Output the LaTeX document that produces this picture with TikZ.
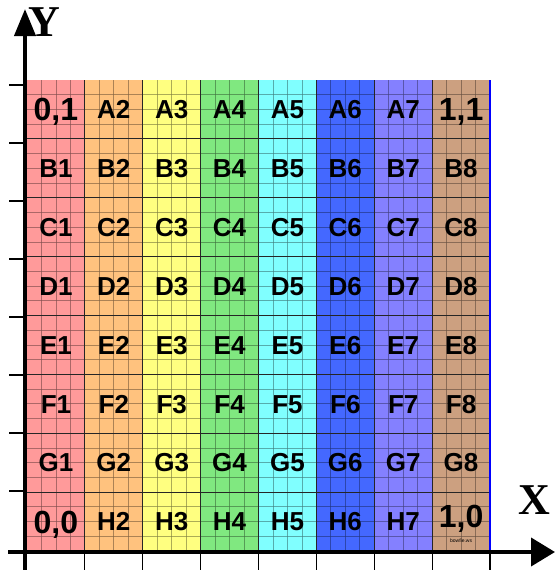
\documentclass[tikz,border=0pt]{standalone}
\usepackage{fontspec}
\setmainfont{Liberation Sans}
\newfontfamily\axisfont{Liberation Serif}
\usetikzlibrary{arrows.meta}
\definecolor{colA}{HTML}{FF9A9A}
\definecolor{colB}{HTML}{FFC27E}
\definecolor{colC}{HTML}{FFFF80}
\definecolor{colD}{HTML}{80E880}
\definecolor{colE}{HTML}{80FFFF}
\definecolor{colF}{HTML}{4468FF}
\definecolor{colG}{HTML}{8480FF}
\definecolor{colH}{HTML}{CCA080}
\tikzset{
  cell/.style={font=\bfseries\fontsize{26}{26}\selectfont, inner sep=0pt, text height=18.6pt, text depth=0pt},
  corner/.style={font=\bfseries\fontsize{32}{32}\selectfont, inner sep=0pt, text height=23pt, text depth=0pt},
  axislbl/.style={font=\axisfont\bfseries\fontsize{44}{44}\selectfont, inner sep=0pt},
  axisline/.style={line width=4pt, draw=black},
  tick/.style={line width=1.2pt, draw=black},
  mainline/.style={line width=1.2pt, draw=black!85},
}
\begin{document}
\begin{tikzpicture}[x=1pt,y=-1pt]
\useasboundingbox (0,0) rectangle (555,570);
\def\gx{27}\def\gy{80}\def\cw{57.875}\def\rh{58.875}
% coloured columns with fine grid
\foreach \col [count=\i from 0] in {colA,colB,colC,colD,colE,colF,colG,colH}{
  \fill[\col] ({\gx+\i*\cw},\gy) rectangle ++(\cw,{8*\rh});
  \foreach \k in {1,2,3}
    \draw[\col!50!black, line width=0.8pt, opacity=0.65] ({\gx+(\i+\k/4)*\cw},\gy) -- ++(0,{8*\rh});
  \foreach \k in {1,...,31}
    \draw[\col!50!black, line width=0.8pt, opacity=0.65] ({\gx+\i*\cw},{\gy+\k*\rh/4}) -- ++(\cw,0);
}
% main grid lines
\foreach \k in {1,...,7}{
  \draw[mainline] ({\gx+\k*\cw},\gy) -- ++(0,{8*\rh});
  \draw[mainline] (\gx,{\gy+\k*\rh}) -- ++({8*\cw},0);
}
% blue edges
\draw[blue, line width=1.6pt] ({\gx+8*\cw},\gy) -- ({\gx+8*\cw},{\gy+8*\rh}) -- (\gx,{\gy+8*\rh});
% cell labels
\foreach \r [count=\ri from 1] in {B,C,D,E,F,G}
  \foreach \c in {1,...,8}
    \node[cell] (l\r\c) at ({\gx+(\c-0.5)*\cw},{\gy+(\ri+0.5)*\rh}) {\r\c};
\foreach \c in {2,...,7}{
  \node[cell] (lA\c) at ({\gx+(\c-0.5)*\cw},{\gy+0.5*\rh}) {A\c};
  \node[cell] (lH\c) at ({\gx+(\c-0.5)*\cw},{\gy+7.5*\rh}) {H\c};
}
\node[corner] (lA1) at ({\gx+0.5*\cw},{\gy+0.5*\rh}) {0,1};
\node[corner] (lA8) at ({\gx+7.5*\cw},{\gy+0.5*\rh}) {1,1};
\node[corner] (lH1) at ({\gx+0.5*\cw},{\gy+7.5*\rh}) {0,0};
\node[corner] (lH8) at ({\gx+7.5*\cw},{\gy+7.4*\rh}) {1,0};
\node[font=\fontsize{5}{5}\selectfont, inner sep=0pt] (wm) at ({\gx+7.5*\cw},541) {bowfie.ws};
% ticks
\foreach \y in {85,143,201,259,317,375,433,491}
  \draw[tick] (9,\y) -- (24,\y);
\foreach \k in {1,...,8}
  \draw[tick] ({\gx+\k*\cw},553) -- ({\gx+\k*\cw},570);
% axes
\coordinate (ytop) at (25,9);
\coordinate (ybot) at (25,570);
\coordinate (xleft) at (8,552);
\coordinate (xright) at (555,552);
\draw[axisline, -{Triangle[width=21pt,length=27pt]}] (ybot) -- (ytop);
\draw[axisline, -{Triangle[width=28pt,length=24pt]}] (xleft) -- (xright);
\node[axislbl] (ylab) at (44,22) {Y};
\node[axislbl] (xlab) at (534,500) {X};
\end{tikzpicture}
\end{document}
